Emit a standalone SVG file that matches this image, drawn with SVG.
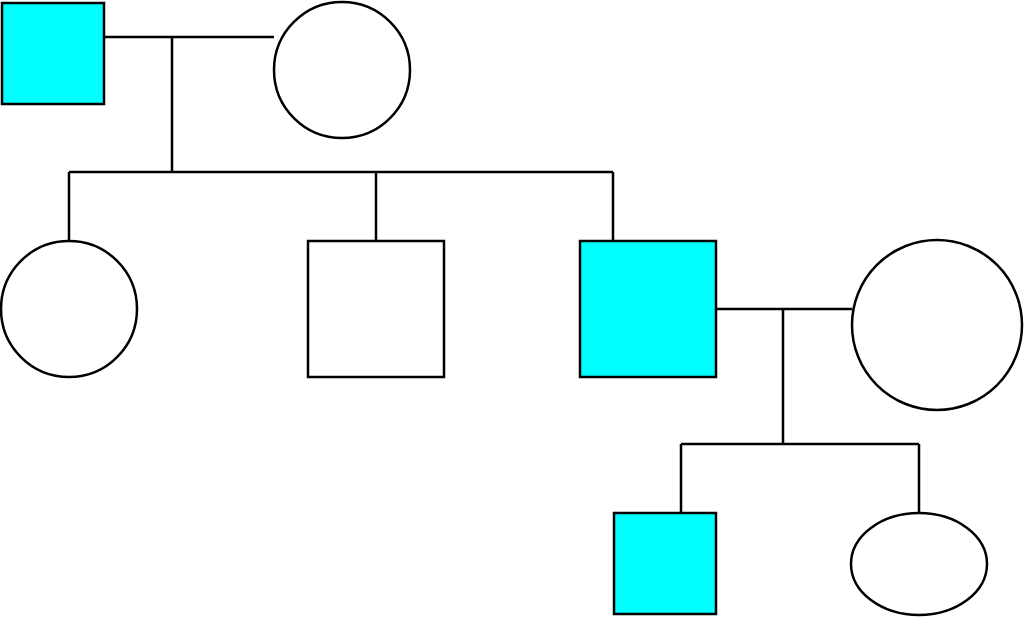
<svg xmlns="http://www.w3.org/2000/svg" width="1024" height="618" viewBox="0 0 1024 618">
<style>
.n{stroke:#000;stroke-width:2.5;fill:#fff}
.a{fill:#00ffff}
.c{stroke:#000;stroke-width:2.5;fill:none}
</style>
<rect width="1024" height="618" fill="#fff"/>
<g id="connectors">
<path class="c" d="M104,37H274M172,37V172M69,172H613M69,172V241M376,172V241M613,172V241M716,309H852M783,309V444M681,444H919M681,444V513M919,444V513"/>
</g>
<g id="gf"><rect class="n a" x="2" y="3" width="102" height="101"/></g>
<g id="gm"><circle class="n" cx="342" cy="70" r="68"/></g>
<g id="d1"><circle class="n" cx="69" cy="309" r="68"/></g>
<g id="s1"><rect class="n" x="308" y="241" width="136" height="136"/></g>
<g id="s2"><rect class="n a" x="580" y="241" width="136" height="136"/></g>
<g id="w"><ellipse class="n" cx="937" cy="325" rx="85" ry="85"/></g>
<g id="c1"><rect class="n a" x="614" y="513" width="102" height="101"/></g>
<g id="c2"><ellipse class="n" cx="919" cy="564" rx="68" ry="51"/></g>
</svg>
